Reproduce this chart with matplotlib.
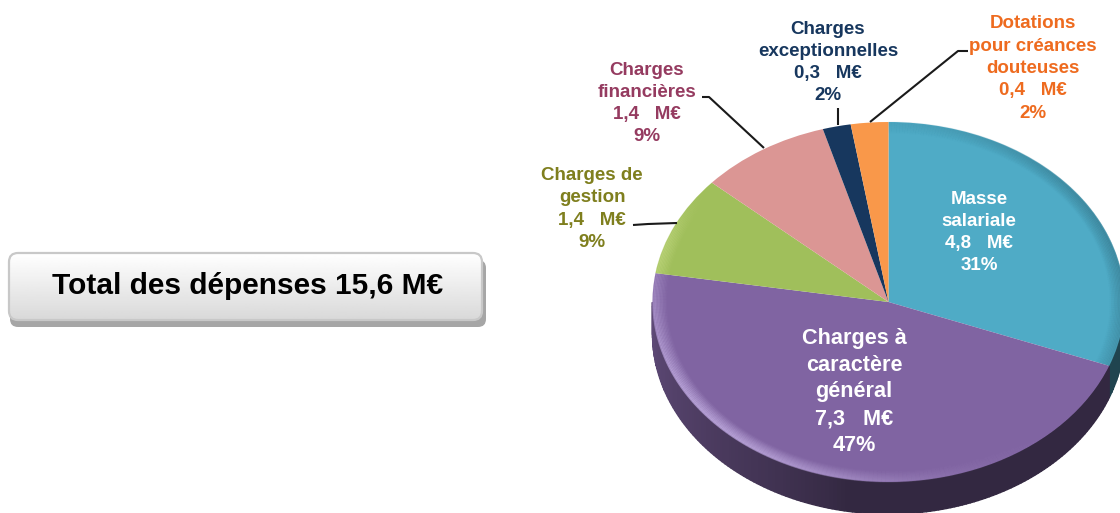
import numpy as np
import matplotlib
matplotlib.use("Agg")
import matplotlib.pyplot as plt
from matplotlib.collections import LineCollection
from matplotlib.colors import to_rgb
from matplotlib.patches import FancyBboxPatch

plt.rcParams['font.family'] = ['Liberation Sans', 'DejaVu Sans']

# Values, clockwise from the top of the pie.
names = ['Masse\nsalariale', 'Charges à\ncaractère\ngénéral', 'Charges de\ngestion',
         'Charges\nfinancières', 'Charges\nexceptionnelles', 'Dotations\npour créances\ndouteuses']
amounts = [4.8, 7.3, 1.4, 1.4, 0.3, 0.4]
percents = [31, 47, 9, 9, 2, 2]
title = 'Total des dépenses 15,6 M€'

slice_colors = ['#4FABC6', '#8064A2', '#A0BF5B', '#DB9694', '#17375E', '#F9984A']
text_colors = ['white', 'white', '#7F7F1E', '#953B60', '#17375E', '#EE6B1F']

# Pixel layout of the picture.
W, H = 1120, 513
cx, cy, rx, ry = 888.5, 302, 236, 180
depth = 32
label_x = [979, 854, 592, 647, 828, 1033]
label_y = [232.5, 392, 209, 103.5, 62.5, 68.5]
label_size = [13.5, 15.6, 13.5, 13.5, 13.5, 13.5]
label_gap = [1.406, 1.345, 1.406, 1.406, 1.406, 1.406]
leaders = [[(633, 225), (648, 224), (677, 223)],
           [(702, 97), (709, 97), (764, 148)],
           [(838, 108), (838, 125)],
           [(968, 51), (958, 51), (870, 122)]]

fig = plt.figure(figsize=(W / 100, H / 100), dpi=100, facecolor='white')

# background layer in pixels: the button
back = fig.add_axes([0, 0, 1, 1], zorder=0)
back.set_xlim(0, W)
back.set_ylim(H, 0)
back.axis('off')

shadow = FancyBboxPatch((10, 260), 476, 67, boxstyle='round,pad=0,rounding_size=8',
                        fc='#A6A6A6', ec='none')
back.add_patch(shadow)
button = FancyBboxPatch((9, 253), 473, 67, boxstyle='round,pad=0,rounding_size=9',
                        fc='none', ec='#C8C8C8', lw=1.6, zorder=3)
back.add_patch(button)
grad = back.imshow(np.linspace(1, 0.85, 64).reshape(-1, 1), cmap='gray', vmin=0, vmax=1,
                   extent=(9, 482, 320, 253), aspect='auto', zorder=2)
grad.set_clip_path(button)
back.set_xlim(0, W)
back.set_ylim(H, 0)
back.text(248, 286, title, fontsize=21.5, fontweight='bold', color='black',
          ha='center', va='center', zorder=4)

# pie layer: axes box is the top ellipse, stretched
pie_ax = fig.add_axes([(cx - rx) / W, 1 - (cy + ry) / H, 2 * rx / W, 2 * ry / H], zorder=1)
wedges, _ = pie_ax.pie(amounts, colors=slice_colors, startangle=90, counterclock=False,
                       radius=1, wedgeprops={'lw': 0, 'clip_on': False, 'zorder': 5})
pie_ax.set_aspect('auto')
pie_ax.set_xlim(-1, 1)
pie_ax.set_ylim(-1, 1)

edges = np.cumsum([0] + amounts) / sum(amounts) * 360
dy = depth / ry


def pos(a, r=1.0):
    # a is degrees clockwise from the top
    t = np.radians(a)
    return r * np.sin(t), r * np.cos(t)


# side wall of the disc, front half only
for i, col in enumerate(slice_colors):
    a0, a1 = max(edges[i], 90), min(edges[i + 1], 270)
    if a1 <= a0:
        continue
    for a in np.arange(a0, a1, 1.0):
        x0, y0 = pos(a)
        x1, y1 = pos(min(a + 1.0, a1))
        shade = 0.40 + 0.34 * np.clip((a - 190) / 80, 0, 1) ** 0.8
        c = np.array(to_rgb(col)) * shade
        pie_ax.fill([x0, x1, x1, x0], [y0, y1, y1 - dy, y0 - dy], fc=c, ec=c, lw=1.0,
                    clip_on=False, zorder=2)


def rim(a0, a1, color, strength, peak, spread):
    # soft bevel along the outer edge of a slice
    a = np.linspace(a0, a1, 160)
    n = 10
    for k in range(n):
        x, y = pos(a, 1 - 0.0035 - k * 0.006)
        pts = np.column_stack([x, y]).reshape(-1, 1, 2)
        segs = np.concatenate([pts[:-1], pts[1:]], axis=1)
        weight = np.exp(-((a[:-1] - peak) / spread) ** 2)
        rgba = np.zeros((len(segs), 4))
        rgba[:, :3] = to_rgb(color)
        rgba[:, 3] = strength * weight * (1 - k / n)
        pie_ax.add_collection(LineCollection(segs, colors=rgba, linewidths=1.6,
                                             zorder=6, clip_on=False))


rim(edges[0], edges[1], '#3A7F94', 0.6, 70, 50)
rim(edges[1], edges[2], '#C9B6E8', 0.55, 232, 48)
rim(edges[2], edges[3], '#C6DC85', 0.5, 285, 14)

# top layer in pixels: labels and leader lines
top = fig.add_axes([0, 0, 1, 1], zorder=2)
top.set_xlim(0, W)
top.set_ylim(H, 0)
top.axis('off')
top.patch.set_alpha(0)

for pts in leaders:
    xs, ys = zip(*pts)
    top.plot(xs, ys, color='#1A1A1A', lw=1.5, solid_capstyle='butt')

for i, name in enumerate(names):
    value = str(amounts[i]).replace('.', ',')
    label = f'{name}\n{value}   M€\n{percents[i]}%'
    top.text(label_x[i], label_y[i], label, color=text_colors[i], fontsize=label_size[i],
             fontweight='bold', ha='center', va='center', multialignment='center',
             linespacing=label_gap[i])

fig.savefig('out.png', dpi=100)
